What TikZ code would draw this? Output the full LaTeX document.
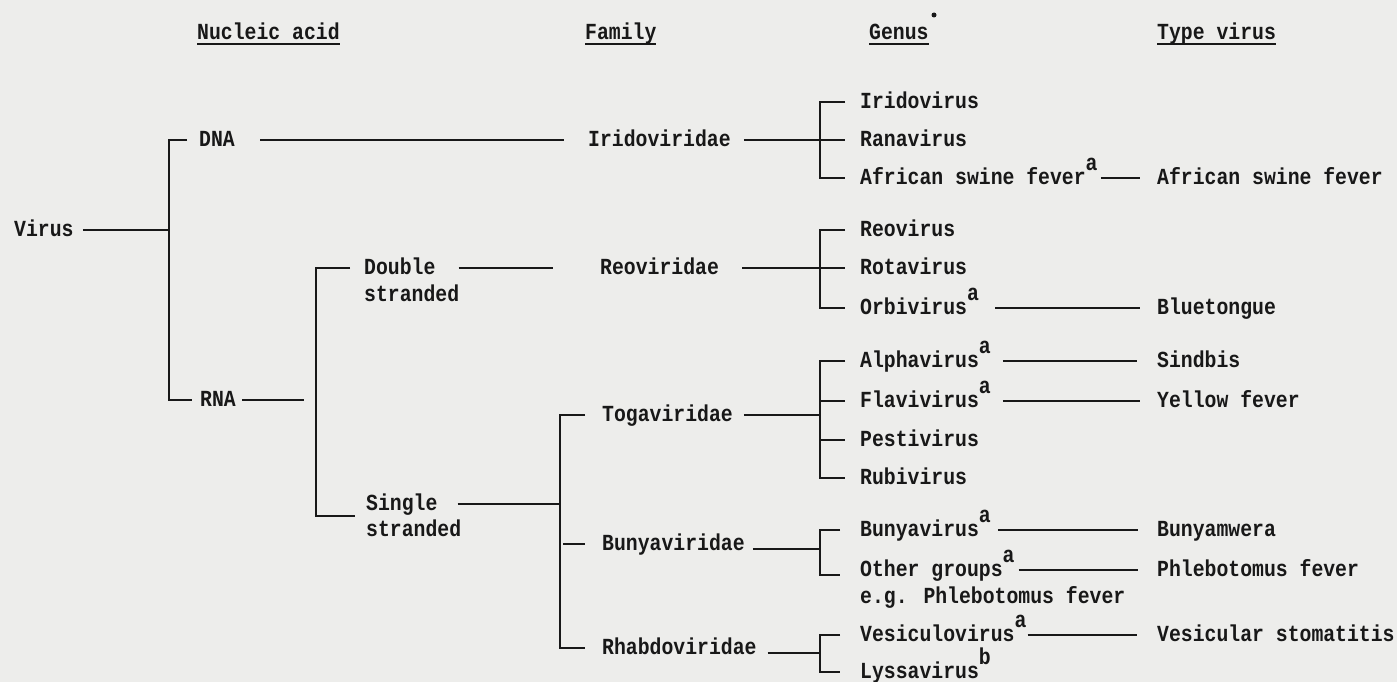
\documentclass[tikz,border=0pt]{standalone}
\usepackage{fontspec}
\setmainfont{Liberation Mono}[FakeStretch=0.86]
\usetikzlibrary{calc}
\definecolor{bg}{RGB}{237,237,235}
\definecolor{ink}{RGB}{24,24,24}
\newcommand{\supa}{\raisebox{14pt}{a}}
\newcommand{\supb}{\raisebox{14pt}{b}}
\newsavebox{\ulsave}
\newcommand{\ulhead}[1]{\sbox{\ulsave}{#1}\rlap{\rule[-6pt]{\wd\ulsave}{2.2pt}}\usebox{\ulsave}}
\begin{document}
\begin{tikzpicture}[x=1pt,y=-1pt,
  lab/.style={inner sep=0pt, anchor=west, text height=13pt, text depth=0pt, text=ink,
              font=\fontsize{23}{27}\selectfont\bfseries},
  ln/.style={draw=ink, line width=2.5pt, line cap=butt, line join=miter}]
\fill[bg] (0,0) rectangle (1397,682);
\useasboundingbox (0,0) rectangle (1397,682);
% headers
\node[lab] (hna) at (197,33) {\ulhead{Nucleic acid}};
\node[lab] (hfa) at (585,33) {\ulhead{Family}};
\node[lab] (hge) at (869,33) {\ulhead{Genus}};
\node[lab] (hty) at (1157,33) {\ulhead{Type virus}};
\fill[ink] (934,15) circle (2.5);
% spines
\coordinate (sA) at (169,0);
\coordinate (sB) at (316,0);
\coordinate (sC) at (560,0);
\coordinate (sD) at (820,0);
% level nodes
\node[lab] (virus) at (14,230) {Virus};
\node[lab] (dna) at (199,140) {DNA};
\node[lab] (rna) at (200,400) {RNA};
\node[lab] (ds) at (364,268) {Double};
\node[lab] (ds2) at (364,295) {stranded};
\node[lab] (ss) at (366,504) {Single};
\node[lab] (ss2) at (366,530) {stranded};
% families
\node[lab] (iri) at (588,140) {Iridoviridae};
\node[lab] (reo) at (600,268) {Reoviridae};
\node[lab] (toga) at (602,415) {Togaviridae};
\node[lab] (bunya) at (602,544) {Bunyaviridae};
\node[lab] (rhab) at (602,648) {Rhabdoviridae};
% genera
\node[lab] (g1) at (860,102) {Iridovirus};
\node[lab] (g2) at (860,140) {Ranavirus};
\node[lab] (g3) at (860,178) {African swine fever\supa};
\node[lab] (g4) at (860,230) {Reovirus};
\node[lab] (g5) at (860,268) {Rotavirus};
\node[lab] (g6) at (860,308) {Orbivirus\supa};
\node[lab] (g7) at (860,361) {Alphavirus\supa};
\node[lab] (g8) at (860,401) {Flavivirus\supa};
\node[lab] (g9) at (860,440) {Pestivirus};
\node[lab] (g10) at (860,478) {Rubivirus};
\node[lab] (g11) at (860,530) {Bunyavirus\supa};
\node[lab] (g12) at (860,570) {Other groups\supa};
\node[lab] (g12b) at (860,597) {e.g. Phlebotomus fever};
\node[lab] (g13) at (860,635) {Vesiculovirus\supa};
\node[lab] (g14) at (860,672) {Lyssavirus\supb};
% type viruses
\node[lab] (t3) at (1157,178) {African swine fever};
\node[lab] (t6) at (1157,308) {Bluetongue};
\node[lab] (t7) at (1157,361) {Sindbis};
\node[lab] (t8) at (1157,401) {Yellow fever};
\node[lab] (t11) at (1157,530) {Bunyamwera};
\node[lab] (t12) at (1157,570) {Phlebotomus fever};
\node[lab] (t13) at (1157,635) {Vesicular stomatitis};
% connectors: virus -> nucleic acid
\draw[ln] ([xshift=9]virus.east) -- (virus.east -| sA);
\draw[ln] ([xshift=-12]dna.west) -- (dna.west -| sA) -- (rna.west -| sA) -- ([xshift=-8]rna.west);
\draw[ln] ([xshift=25]dna.east) -- ([xshift=-24]iri.west);
\draw[ln] ([xshift=6]rna.east) -- ($(rna.east -| sB)+(-12,0)$);
\draw[ln] ([xshift=-14]ds.west) -- (ds.west -| sB) -- ($(ss.west -| sB)+(0,12)$) -- ($(ss.west)+(-11,12)$);
\draw[ln] ([xshift=23]ds.east) -- ([xshift=-47]reo.west);
% single stranded -> families
\draw[ln] ([xshift=20]ss.east) -- (ss.east -| sC);
\draw[ln] ([xshift=-17]toga.west) -- (toga.west -| sC) -- (rhab.west -| sC) -- ([xshift=-17]rhab.west);
\draw[ln] ($(bunya.west -| sC)+(3,0)$) -- ([xshift=-17]bunya.west);
% families -> genera
\draw[ln] ([xshift=13]iri.east) -- ([xshift=-15]g2.west);
\draw[ln] ([xshift=-15]g1.west) -- (g1.west -| sD) -- (g3.west -| sD) -- ([xshift=-15]g3.west);
\draw[ln] ([xshift=23]reo.east) -- ([xshift=-15]g5.west);
\draw[ln] ([xshift=-15]g4.west) -- (g4.west -| sD) -- (g6.west -| sD) -- ([xshift=-15]g6.west);
\draw[ln] ([xshift=11]toga.east) -- (toga.east -| sD);
\draw[ln] ([xshift=-15]g7.west) -- (g7.west -| sD) -- (g10.west -| sD) -- ([xshift=-15]g10.west);
\draw[ln] (g8.west -| sD) -- ([xshift=-15]g8.west);
\draw[ln] (g9.west -| sD) -- ([xshift=-15]g9.west);
\draw[ln] ($(bunya.east)+(8,5)$) -- ($(bunya.east -| sD)+(0,5)$);
\draw[ln] ([xshift=-20]g11.west) -- (g11.west -| sD) -- ($(g12.west -| sD)+(0,5)$) -- ($(g12.west)+(-20,5)$);
\draw[ln] ($(rhab.east)+(11,5)$) -- ($(rhab.east -| sD)+(0,5)$);
\draw[ln] ([xshift=-20]g13.west) -- (g13.west -| sD) -- (g14.west -| sD) -- ([xshift=-20]g14.west);
% genera -> type viruses
\draw[ln] ([xshift=3]g3.east) -- ([xshift=-17]t3.west);
\draw[ln] ([xshift=16]g6.east) -- ([xshift=-17]t6.west);
\draw[ln] ([xshift=12]g7.east) -- ([xshift=-20]t7.west);
\draw[ln] ([xshift=12]g8.east) -- ([xshift=-17]t8.west);
\draw[ln] ([xshift=7]g11.east) -- ([xshift=-19]t11.west);
\draw[ln] ([xshift=4]g12.east) -- ([xshift=-19]t12.west);
\draw[ln] ([xshift=1]g13.east) -- ([xshift=-20]t13.west);
\end{tikzpicture}
\end{document}
